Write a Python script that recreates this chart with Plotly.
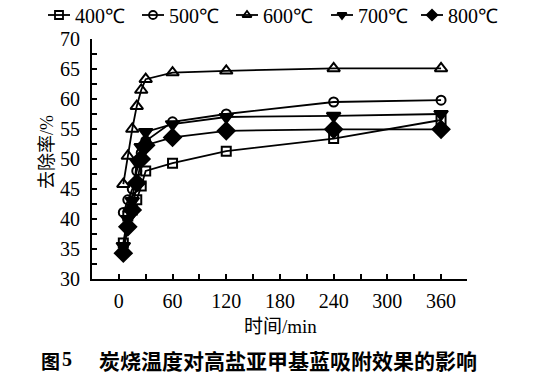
import plotly.graph_objects as go

time_min = [5, 10, 15, 20, 25, 30, 60, 120, 240, 360]
series_names = ["400℃", "500℃", "600℃", "700℃", "800℃"]
r400 = [36.0, 40.5, 41.5, 43.2, 45.5, 48.0, 49.3, 51.3, 53.4, 56.5]
r500 = [41.1, 43.2, 45.0, 48.0, 51.0, 53.0, 56.2, 57.5, 59.5, 59.8]
r600 = [45.8, 50.5, 55.0, 58.8, 61.5, 63.3, 64.4, 64.7, 65.1, 65.1]
r700 = [35.5, 40.0, 43.0, 49.5, 52.0, 54.5, 55.8, 57.0, 57.2, 57.5]
r800 = [34.3, 38.7, 41.5, 46.0, 50.0, 52.3, 53.6, 54.7, 54.95, 54.95]
x_ticks = [0, 60, 120, 180, 240, 300, 360]
y_ticks = [30, 35, 40, 45, 50, 55, 60, 65, 70]

W, H = 542, 375
symbols = ["square-open", "circle-open", "triangle-up-open", "triangle-down", "diamond"]
sizes = [9, 9, 11, 12, 13]
data = [r400, r500, r600, r700, r800]

serif = "Liberation Serif"
cjk = "Noto Sans CJK SC"

fig = go.Figure()
for name, ys, sym, sz in zip(series_names, data, symbols, sizes):
    fig.add_trace(go.Scatter(
        x=time_min, y=ys, name=name, mode="lines+markers", showlegend=False,
        line=dict(color="black", width=1.8),
        marker=dict(symbol=sym, size=sz, color="black",
                    line=dict(color="black", width=2)),
        xaxis="x", yaxis="y",
    ))

# manual legend drawn on a full-page pixel axis (x2/y2)
leg_x0 = [48, 142, 236, 331, 421]
leg_y = 15
for name, sym, x0 in zip(series_names, symbols, leg_x0):
    fig.add_trace(go.Scatter(
        x=[x0, x0 + 22], y=[leg_y, leg_y], mode="lines", showlegend=False,
        line=dict(color="black", width=1.8), xaxis="x2", yaxis="y2", hoverinfo="skip"))
    fig.add_trace(go.Scatter(
        x=[x0 + 11], y=[leg_y], mode="markers", showlegend=False,
        marker=dict(symbol=sym, size=8, color="black", line=dict(color="black", width=1.8)),
        xaxis="x2", yaxis="y2", hoverinfo="skip"))

annotations = []
for name, x0 in zip(series_names, leg_x0):
    annotations.append(dict(text=name, x=x0 + 25, y=leg_y + 1, xanchor="left", yanchor="middle",
                            font=dict(size=20, family=serif)))
annotations += [
    dict(text="时间<span style='font-family:Liberation Serif'>/min</span>", x=280, y=324,
         xanchor="center", yanchor="middle", font=dict(size=19, family=cjk)),
    dict(text="去除率<span style='font-family:Liberation Serif'>/%</span>", textangle=-90,
         x=45, y=152, xanchor="center", yanchor="middle", font=dict(size=18, family=cjk)),
    dict(text="<b>图</b>", x=50, y=360, xanchor="center", yanchor="middle",
         font=dict(size=19, family=cjk)),
    dict(text="<b>5</b>", x=67, y=359, xanchor="center", yanchor="middle",
         font=dict(size=20, family=serif)),
    dict(text="<b>炭烧温度对高盐亚甲基蓝吸附效果的影响</b>", x=288, y=360,
         xanchor="center", yanchor="middle", font=dict(size=21, family=cjk)),
]
for a in annotations:
    a.update(xref="x2", yref="y2", showarrow=False)

fig.update_layout(
    width=W, height=H, autosize=False,
    margin=dict(l=0, r=0, t=0, b=0, pad=0),
    paper_bgcolor="white", plot_bgcolor="rgba(0,0,0,0)",
    font=dict(family=serif, size=19, color="black"),
    showlegend=False,
    xaxis=dict(domain=[92 / W, 467 / W], range=[-30, 389], tickvals=x_ticks,
               ticks="inside", ticklen=5, tickwidth=1.5, tickcolor="black",
               showline=True, linecolor="black", linewidth=2, showgrid=False,
               zeroline=False, automargin=False, ticklabelstandoff=3,
               minor=dict(dtick=30, tick0=0, ticks="inside", ticklen=5,
                          tickwidth=1.5, tickcolor="black"),
               tickfont=dict(size=20, family=serif), anchor="y"),
    yaxis=dict(domain=[96 / H, 336 / H], range=[30, 70], tickvals=y_ticks,
               ticks="inside", ticklen=5, tickwidth=1.5, tickcolor="black",
               showline=True, linecolor="black", linewidth=2, showgrid=False,
               zeroline=False, automargin=False, ticklabelstandoff=6,
               minor=dict(dtick=2.5, tick0=30, ticks="inside", ticklen=5,
                          tickwidth=1.5, tickcolor="black"),
               tickfont=dict(size=20, family=serif), anchor="x"),
    xaxis2=dict(domain=[0, 1], range=[0, W], visible=False, anchor="y2",
                automargin=False, fixedrange=True),
    yaxis2=dict(domain=[0, 1], range=[H, 0], visible=False, anchor="x2",
                automargin=False, fixedrange=True),
    annotations=annotations,
)

fig.write_html("out.html", config={"displayModeBar": False},
               post_script="document.body.style.margin='0';")
